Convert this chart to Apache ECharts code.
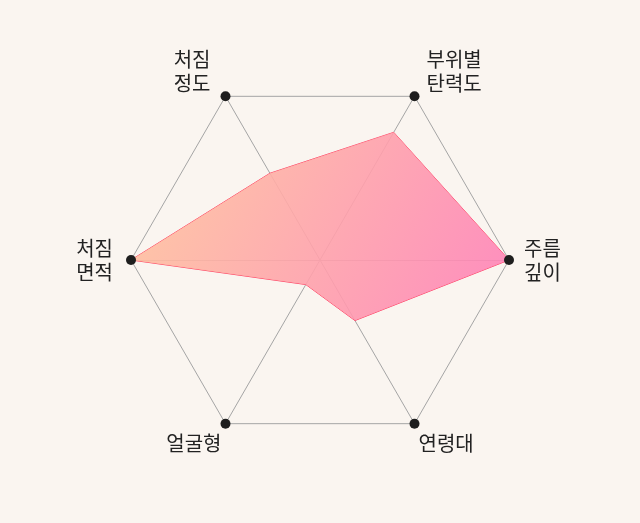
<!DOCTYPE html>
<html>
<head>
<meta charset="utf-8">
<script src="https://cdn.jsdelivr.net/npm/echarts@6/dist/echarts.min.js"></script>
<style>
  html, body { margin: 0; padding: 0; background: #faf5f0; }
  #chart { width: 640px; height: 523px; }
</style>
</head>
<body>
<div id="chart"></div>
<script>
// 지표 (startAngle 0 → 오른쪽부터 반시계 방향)
var indicators = ['주름\n깊이', '부위별\n탄력도', '처짐\n정도', '처짐\n면적', '얼굴형', '연령대'];
var maxValue = 100;
var scores = [100, 78, 53, 100, 15, 37];
var outerPoints = [100, 100, 100, 100, 100, 100];

var myChart = echarts.init(document.getElementById('chart'));

// 라벨 위치 미세조정 (지표별 rich 스타일)
var base = { color: '#222', fontSize: 20, lineHeight: 24, fontFamily: 'Noto Sans CJK KR' };
function pad(p) { return Object.assign({ padding: p }, base); }
var rich = {
    a0: pad([0, 0, 0, 7]),
    a1: pad([0, 0, 0, 8]),
    a2: pad([0, 11, 0, 0]),
    a3: pad([0, 10, 0, 0]),
    a4: pad([0, 0, 0, 0]),
    a5: pad([0, 0, 0, 0]),
    up: { fontSize: 1, lineHeight: 36 },
    down: { fontSize: 1, lineHeight: 26 }
};

var option = {
    backgroundColor: '#faf5f0',
    radar: {
        center: [320, 260],
        radius: 189,
        startAngle: 0,
        splitNumber: 1,
        shape: 'polygon',
        nameGap: 8,
        indicator: indicators.map(function (n) { return { name: n, max: maxValue }; }),
        axisName: {
            color: '#222',
            fontSize: 20,
            lineHeight: 24,
            fontFamily: 'Noto Sans CJK KR',
            formatter: function (name) {
                var i = indicators.indexOf(name);
                var txt = name.split('\n').map(function (l) {
                    return '{a' + i + '|' + l + '}';
                }).join('\n');
                if (i === 1 || i === 2) txt += '\n{up| }';
                if (i === 4 || i === 5) txt = '{down| }\n' + txt;
                return txt;
            },
            rich: rich
        },
        axisLine: { lineStyle: { color: '#a5a5a5', width: 1 } },
        splitLine: { lineStyle: { color: '#a5a5a5', width: 1 } },
        splitArea: { show: false },
        axisTick: { show: false },
        axisLabel: { show: false }
    },
    series: [
        {
            type: 'radar',
            symbol: 'none',
            silent: true,
            lineStyle: { color: '#ff4062', width: 1 },
            areaStyle: {
                opacity: 0.9,
                color: new echarts.graphic.LinearGradient(0, 0, 1, 1, [
                    { offset: 0, color: '#ffc79c' },
                    { offset: 1, color: '#ff80b9' }
                ])
            },
            data: [{ value: scores }]
        },
        {
            type: 'radar',
            symbol: 'circle',
            symbolSize: 10,
            silent: true,
            itemStyle: { color: '#1e1e1e' },
            lineStyle: { opacity: 0 },
            data: [{ value: outerPoints }]
        }
    ]
};

myChart.setOption(option);
</script>
</body>
</html>
